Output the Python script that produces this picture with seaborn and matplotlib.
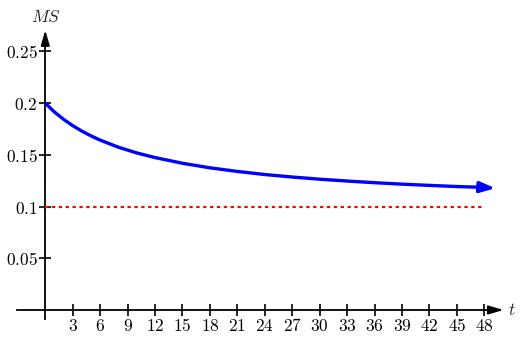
import matplotlib
matplotlib.use("Agg")
import matplotlib.pyplot as plt
import seaborn as sns
import pandas as pd

# values
t_vals = [0, 1, 2, 3, 4, 5, 6, 8, 10, 12, 15, 18, 21, 24, 27, 30, 33, 36, 39, 42, 45, 47.8]
ms_vals = [0.2000, 0.1915, 0.1844, 0.1783, 0.1730, 0.1684, 0.1643, 0.1574, 0.1519, 0.1474,
           0.1419, 0.1375, 0.1340, 0.1310, 0.1286, 0.1265, 0.1247, 0.1231, 0.1217, 0.1205,
           0.1194, 0.1186]
asym_t = [0, 48]
asym_ms = [0.1, 0.1]
x_ticks = [3, 6, 9, 12, 15, 18, 21, 24, 27, 30, 33, 36, 39, 42, 45, 48]
y_ticks = [0.05, 0.1, 0.15, 0.2, 0.25]
y_tick_labels = ["0.05", "0.1", "0.15", "0.2", "0.25"]

sns.set_theme(style="white")
plt.rcParams["mathtext.fontset"] = "cm"
plt.rcParams["font.family"] = ["DejaVu Sans"]

fig = plt.figure(figsize=(5.29, 3.41), dpi=100)
ax = fig.add_axes([0, 0, 1, 1])
ax.set_facecolor("white")

curve = pd.DataFrame({"t": t_vals, "MS": ms_vals})
asym = pd.DataFrame({"t": asym_t, "MS": asym_ms})

sns.lineplot(data=asym, x="t", y="MS", ax=ax, color="#ff0000", lw=1.5,
             linestyle=(0, (1.6, 1.7)), zorder=2)
sns.lineplot(data=curve, x="t", y="MS", ax=ax, color="#0000ff", lw=2.4,
             solid_capstyle="butt", zorder=3)
# arrow head on curve
ax.annotate("", xy=(49.2, 0.1178), xytext=(47.6, 0.1187),
            arrowprops=dict(arrowstyle="-|>,head_length=0.75,head_width=0.27",
                            color="#0000ff", lw=2.4, shrinkA=0, shrinkB=0), zorder=3)

# axes limits so that pixel mapping matches the reference
ax.set_xlim(-4.95, 52.89)
ax.set_ylim(-0.030, 0.2998)

for s in ["top", "right"]:
    ax.spines[s].set_visible(False)
ax.spines["left"].set_position(("data", 0))
ax.spines["bottom"].set_position(("data", 0))
ax.spines["left"].set_bounds(-0.0087, 0.262)
ax.spines["bottom"].set_bounds(-3.1, 49.0)
for s in ["left", "bottom"]:
    ax.spines[s].set_color("black")
    ax.spines[s].set_linewidth(1.3)
    ax.spines[s].set_zorder(1)

# axis arrow heads
ax.annotate("", xy=(50.1, 0), xytext=(48.6, 0),
            arrowprops=dict(arrowstyle="-|>,head_length=0.75,head_width=0.22",
                            color="black", lw=1.3, shrinkA=0, shrinkB=0))
ax.annotate("", xy=(0, 0.2705), xytext=(0, 0.258),
            arrowprops=dict(arrowstyle="-|>,head_length=0.75,head_width=0.22",
                            color="black", lw=1.3, shrinkA=0, shrinkB=0))

ax.set_xticks(x_ticks)
ax.set_xticklabels([f"${v}$" for v in x_ticks])
ax.set_yticks(y_ticks)
ax.set_yticklabels([f"${v}$" for v in y_tick_labels])
ax.tick_params(axis="both", which="major", direction="inout", length=8, width=1.2,
               color="black", labelsize=12.5, labelcolor="black")
ax.tick_params(axis="x", pad=1.0)
ax.tick_params(axis="y", pad=1.5)
ax.tick_params(bottom=True, left=True)

ax.set_xlabel("")
ax.set_ylabel("")
ax.text(0.1, 0.283, "$MS$", ha="center", va="center", fontsize=12.5)
ax.text(51.0, 0.0, "$t$", ha="center", va="center", fontsize=12.5)

fig.savefig("out.png", dpi=100)
